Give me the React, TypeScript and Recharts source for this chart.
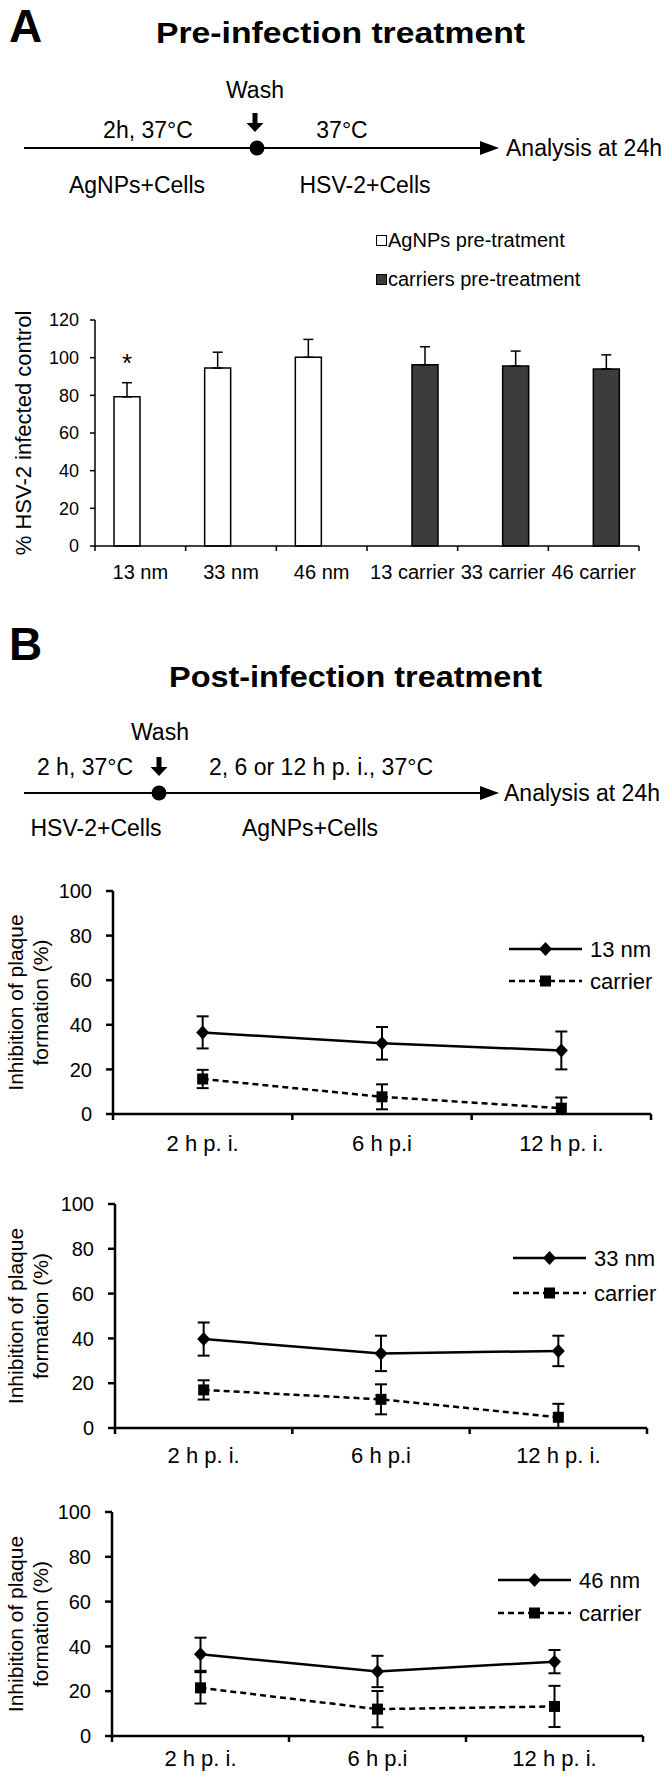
import React from 'react';
import { BarChart, Bar, LineChart, Line, XAxis, YAxis, ErrorBar, Legend, LabelList, Label } from 'recharts';

const FONT = "'Liberation Sans', Arial, Helvetica, sans-serif";
const BLACK = '#000';
const DARK = '#3c3c3c';

// panel A - pre-infection treatment (% of HSV-2 infected control)
const barCategories = ['13 nm', '33 nm', '46 nm', '13 carrier', '33 carrier', '46 carrier'];
const agnpsPre = [79.2, 94.5, 100.2, null, null, null];
const agnpsPreErr = [7.5, 8.4, 9.5, null, null, null];
const carriersPre = [null, null, null, 96.2, 95.6, 94.0];
const carriersPreErr = [null, null, null, 9.6, 7.9, 7.5];
const significance = ['*', '', '', '', '', ''];
const barTicks = [0, 20, 40, 60, 80, 100, 120];

// panel B - post-infection treatment (% inhibition of plaque formation)
const timepoints = ['2 h p. i.', '6 h p.i', '12 h p. i.'];
const lineTicks = [0, 20, 40, 60, 80, 100];
const nm13 = [36.6, 31.7, 28.5];
const nm13Err = [7.2, 7.3, 8.5];
const carrier13 = [15.7, 7.7, 2.6];
const carrier13Err = [4.1, 5.6, 4.8];
const nm33 = [39.7, 33.3, 34.4];
const nm33Err = [7.4, 7.9, 6.8];
const carrier33 = [17.0, 12.8, 4.8];
const carrier33Err = [4.3, 6.7, 6.0];
const nm46 = [36.5, 28.8, 33.2];
const nm46Err = [7.4, 7.0, 5.2];
const carrier46 = [21.5, 12.0, 13.2];
const carrier46Err = [7.0, 8.1, 9.2];

const W = 672;

const DownArrow = ({ x, y }: { x: number; y: number }) => (
  <path d={`M${x - 2.5},${y} h5 v10 h6 l-8.5,9 l-8.5,-9 h6 z`} fill={BLACK} />
);

const Timeline = ({ y, dotX }: { y: number; dotX: number }) => (
  <g>
    <line x1={24} y1={y} x2={482} y2={y} stroke={BLACK} strokeWidth={2} />
    <path d={`M480,${y - 7} L499,${y} L480,${y + 7} Z`} fill={BLACK} />
    <circle cx={dotX} cy={y} r={7.5} fill={BLACK} />
  </g>
);

const HeaderA = () => (
  <svg width={W} height={210} style={{ position: 'absolute', left: 0, top: 0 }} fontFamily={FONT} fill={BLACK}>
    <text x={9} y={42} fontSize={46} fontWeight="bold">A</text>
    <text x={156} y={43} fontSize={30} fontWeight="bold" textLength={369} lengthAdjust="spacingAndGlyphs">
      Pre-infection treatment
    </text>
    <text x={255} y={98} fontSize={23} textAnchor="middle">Wash</text>
    <DownArrow x={255} y={113} />
    <text x={148} y={138} fontSize={23} textAnchor="middle">2h, 37°C</text>
    <text x={342} y={138} fontSize={23} textAnchor="middle">37°C</text>
    <Timeline y={148} dotX={257} />
    <text x={506} y={156} fontSize={23}>Analysis at 24h</text>
    <text x={137} y={193} fontSize={23} textAnchor="middle">AgNPs+Cells</text>
    <text x={365} y={193} fontSize={23} textAnchor="middle">HSV-2+Cells</text>
  </svg>
);

// header B is drawn in a box starting at y = 600
const HeaderB = () => (
  <svg width={W} height={250} style={{ position: 'absolute', left: 0, top: 600 }} fontFamily={FONT} fill={BLACK}>
    <text x={9} y={60} fontSize={46} fontWeight="bold">B</text>
    <text x={169} y={87} fontSize={30} fontWeight="bold" textLength={373} lengthAdjust="spacingAndGlyphs">
      Post-infection treatment
    </text>
    <text x={160} y={140} fontSize={23} textAnchor="middle">Wash</text>
    <DownArrow x={159} y={157} />
    <text x={85} y={175} fontSize={23} textAnchor="middle">2 h, 37°C</text>
    <text x={321} y={175} fontSize={23} textAnchor="middle">2, 6 or 12 h p. i., 37°C</text>
    <Timeline y={193} dotX={159} />
    <text x={504} y={201} fontSize={23}>Analysis at 24h</text>
    <text x={96} y={236} fontSize={23} textAnchor="middle">HSV-2+Cells</text>
    <text x={310} y={236} fontSize={23} textAnchor="middle">AgNPs+Cells</text>
  </svg>
);

// ---------- bar chart (panel A) ----------
const BAR_H = 400;
const barMargin = { top: 120, right: 33, bottom: 24, left: 0 };
const BAR_YAXIS_W = 95;
const barBand = (W - barMargin.left - barMargin.right - BAR_YAXIS_W) / barCategories.length;

const barData = barCategories.map((name, i) => ({
  name,
  agnps: agnpsPre[i],
  agnpsErr: agnpsPreErr[i],
  carriers: carriersPre[i],
  carriersErr: carriersPreErr[i],
  sig: significance[i],
}));

const BarTick = (props: any) => {
  const { x, y, payload, index } = props;
  const last = index === barCategories.length - 1;
  return (
    <g>
      <line x1={x - barBand / 2} y1={y} x2={x - barBand / 2} y2={y + 5} stroke={BLACK} strokeWidth={1.5} />
      {last && <line x1={x + barBand / 2} y1={y} x2={x + barBand / 2} y2={y + 5} stroke={BLACK} strokeWidth={1.5} />}
      <text x={x} y={y + 33} textAnchor="middle" fontSize={20} fontFamily={FONT} fill={BLACK}>
        {payload.value}
      </text>
    </g>
  );
};

const BarLegend = (props: any) => (
  <div style={{ fontFamily: FONT, fontSize: 20, color: BLACK }}>
    {(props.payload || []).map((e: any) => (
      <div key={e.value} style={{ display: 'flex', alignItems: 'center', height: 39 }}>
        <span style={{ width: 9, height: 9, border: `1.5px solid ${BLACK}`, background: e.color, marginRight: 1 }} />
        <span>{e.value}</span>
      </div>
    ))}
  </div>
);

const barYLabel = (props: any) => {
  const { viewBox } = props;
  const cy = viewBox.y + viewBox.height / 2;
  return (
    <text transform={`translate(23, ${cy}) rotate(-90)`} textAnchor="middle" dy="0.35em" fontSize={22} fontFamily={FONT} fill={BLACK}>
      % HSV-2 infected control
    </text>
  );
};

const starLabel = (props: any) => {
  const { x, y, width, value } = props;
  if (!value) return null;
  return (
    <text x={x + width / 2} y={y - 25} textAnchor="middle" fontSize={26} fontFamily={FONT} fill={BLACK}>
      {value}
    </text>
  );
};

const PreInfectionChart = () => (
  <div style={{ position: 'absolute', left: 0, top: 200 }}>
    <BarChart width={W} height={BAR_H} data={barData} margin={barMargin} barGap={0}>
      <XAxis
        dataKey="name"
        height={30}
        interval={0}
        tickSize={0}
        tickMargin={0}
        tickLine={false}
        axisLine={{ stroke: BLACK, strokeWidth: 1.5 }}
        tick={BarTick}
      />
      <YAxis
        domain={[0, 120]}
        ticks={barTicks}
        interval={0}
        width={BAR_YAXIS_W}
        tickSize={5}
        tickMargin={11}
        axisLine={{ stroke: BLACK, strokeWidth: 1.5 }}
        tickLine={{ stroke: BLACK, strokeWidth: 1.5 }}
        tick={{ fill: BLACK, fontSize: 18, fontFamily: FONT }}
      >
        <Label content={barYLabel} />
      </YAxis>
      <Legend
        layout="vertical"
        align="center"
        verticalAlign="middle"
        wrapperStyle={{ left: 376, top: 21, width: 290 }}
        content={BarLegend}
      />
      <Bar dataKey="agnps" name="AgNPs pre-tratment" fill="#fff" stroke={BLACK} strokeWidth={1.5} barSize={26} isAnimationActive={false}>
        <ErrorBar
          dataKey={(d: any) => (d.agnpsErr == null ? null : [0, d.agnpsErr])}
          direction="y"
          width={5}
          stroke={BLACK}
          strokeWidth={1.5}
        />
        <LabelList dataKey="sig" content={starLabel} />
      </Bar>
      <Bar dataKey="carriers" name="carriers pre-treatment" fill={DARK} stroke={BLACK} strokeWidth={1.5} barSize={26} isAnimationActive={false}>
        <ErrorBar
          dataKey={(d: any) => (d.carriersErr == null ? null : [0, d.carriersErr])}
          direction="y"
          width={5}
          stroke={BLACK}
          strokeWidth={1.5}
        />
      </Bar>
    </BarChart>
  </div>
);

// ---------- line charts (panel B) ----------
const renderDiamond = (props: any) => {
  const { cx, cy, index } = props;
  if (cx == null || cy == null) return <g key={`dm-${index}`} />;
  return <path key={`dm-${index}`} d={`M${cx},${cy - 7} L${cx + 6.5},${cy} L${cx},${cy + 7} L${cx - 6.5},${cy} Z`} fill={BLACK} />;
};

const renderSquare = (props: any) => {
  const { cx, cy, index } = props;
  if (cx == null || cy == null) return <g key={`sq-${index}`} />;
  return <rect key={`sq-${index}`} x={cx - 5.5} y={cy - 5.5} width={11} height={11} fill={BLACK} />;
};

const lineYLabel = (props: any) => {
  const { viewBox } = props;
  const cy = viewBox.y + viewBox.height / 2;
  return (
    <text transform={`translate(16, ${cy}) rotate(-90)`} textAnchor="middle" fontSize={21} fontFamily={FONT} fill={BLACK}>
      <tspan x={0} dy="0.35em">Inhibition of plaque</tspan>
      <tspan x={0} dy={25}>formation (%)</tspan>
    </text>
  );
};

interface LinePanelProps {
  top: number;
  height: number;
  margin: { top: number; right: number; bottom: number; left: number };
  yAxisWidth: number;
  xAxisHeight: number;
  labelDy: number;
  nmName: string;
  nm: number[];
  nmErr: number[];
  carrier: number[];
  carrierErr: number[];
  legendLeft: number;
  legendTop: number;
  legendGap: number;
}

const LinePanel = (p: LinePanelProps) => {
  const data = timepoints.map((t, i) => ({
    t,
    nm: p.nm[i],
    nmErr: p.nmErr[i],
    carrier: p.carrier[i],
    carrierErr: p.carrierErr[i],
  }));
  const band = (W - p.margin.left - p.margin.right - p.yAxisWidth) / timepoints.length;

  const tick = (props: any) => {
    const { x, y, payload, index } = props;
    const last = index === timepoints.length - 1;
    return (
      <g>
        <line x1={x - band / 2} y1={y} x2={x - band / 2} y2={y + 6} stroke={BLACK} strokeWidth={2.5} />
        {last && <line x1={x + band / 2} y1={y} x2={x + band / 2} y2={y + 6} stroke={BLACK} strokeWidth={2.5} />}
        <text x={x} y={y + p.labelDy} textAnchor="middle" fontSize={22} fontFamily={FONT} fill={BLACK}>
          {payload.value}
        </text>
      </g>
    );
  };

  const legend = (props: any) => (
    <svg width={180} height={p.legendGap + 34}>
      {(props.payload || []).map((e: any, i: number) => {
        const y = 17 + i * p.legendGap;
        const isNm = e.dataKey === 'nm';
        return (
          <g key={String(e.dataKey)}>
            <line
              x1={0}
              y1={y}
              x2={73}
              y2={y}
              stroke={BLACK}
              strokeWidth={2.5}
              strokeDasharray={isNm ? undefined : '6 4'}
            />
            {isNm
              ? <path d={`M36.5,${y - 7} L43,${y} L36.5,${y + 7} L30,${y} Z`} fill={BLACK} />
              : <rect x={31} y={y - 5.5} width={11} height={11} fill={BLACK} />}
            <text x={81} y={y + 8} fontSize={22} fontFamily={FONT} fill={BLACK}>{e.value}</text>
          </g>
        );
      })}
    </svg>
  );

  return (
    <div style={{ position: 'absolute', left: 0, top: p.top }}>
      <LineChart width={W} height={p.height} data={data} margin={p.margin}>
        <XAxis
          dataKey="t"
          scale="band"
          height={p.xAxisHeight}
          interval={0}
          tickSize={0}
          tickMargin={0}
          tickLine={false}
          axisLine={{ stroke: BLACK, strokeWidth: 2.5 }}
          tick={tick}
        />
        <YAxis
          domain={[0, 100]}
          ticks={lineTicks}
          interval={0}
          width={p.yAxisWidth}
          tickSize={7}
          tickMargin={14}
          axisLine={{ stroke: BLACK, strokeWidth: 2.5 }}
          tickLine={{ stroke: BLACK, strokeWidth: 2.5 }}
          tick={{ fill: BLACK, fontSize: 20, fontFamily: FONT }}
        >
          <Label content={lineYLabel} />
        </YAxis>
        <Legend
          layout="vertical"
          align="center"
          verticalAlign="middle"
          wrapperStyle={{ left: p.legendLeft, top: p.legendTop - p.top - 17, width: 180 }}
          content={legend}
        />
        <Line dataKey="nm" name={p.nmName} stroke={BLACK} strokeWidth={2.5} dot={renderDiamond} activeDot={false} isAnimationActive={false}>
          <ErrorBar
            dataKey={(d: any) => [Math.min(d.nmErr, d.nm), d.nmErr]}
            direction="y"
            width={6}
            stroke={BLACK}
            strokeWidth={2}
          />
        </Line>
        <Line
          dataKey="carrier"
          name="carrier"
          stroke={BLACK}
          strokeWidth={2.5}
          strokeDasharray="6 4"
          dot={renderSquare}
          activeDot={false}
          isAnimationActive={false}
        >
          <ErrorBar
            dataKey={(d: any) => [Math.min(d.carrierErr, d.carrier), d.carrierErr]}
            direction="y"
            width={6}
            stroke={BLACK}
            strokeWidth={2}
          />
        </Line>
      </LineChart>
    </div>
  );
};

export default function App() {
  return (
    <div style={{ position: 'relative', width: W, height: 1781, background: '#fff', overflow: 'hidden', fontFamily: FONT }}>
      <style>{'body{margin:0;background:#fff}'}</style>
      <HeaderA />
      <PreInfectionChart />
      <HeaderB />
      <LinePanel
        top={860}
        height={300}
        margin={{ top: 31, right: 21, bottom: 6, left: 0 }}
        yAxisWidth={113}
        xAxisHeight={40}
        labelDy={37}
        nmName="13 nm"
        nm={nm13}
        nmErr={nm13Err}
        carrier={carrier13}
        carrierErr={carrier13Err}
        legendLeft={509}
        legendTop={949}
        legendGap={32}
      />
      <LinePanel
        top={1170}
        height={300}
        margin={{ top: 34, right: 25, bottom: 6, left: 0 }}
        yAxisWidth={115}
        xAxisHeight={36}
        labelDy={35}
        nmName="33 nm"
        nm={nm33}
        nmErr={nm33Err}
        carrier={carrier33}
        carrierErr={carrier33Err}
        legendLeft={513}
        legendTop={1258}
        legendGap={35}
      />
      <LinePanel
        top={1480}
        height={301}
        margin={{ top: 32, right: 29, bottom: 5, left: 0 }}
        yAxisWidth={112}
        xAxisHeight={40}
        labelDy={30}
        nmName="46 nm"
        nm={nm46}
        nmErr={nm46Err}
        carrier={carrier46}
        carrierErr={carrier46Err}
        legendLeft={498}
        legendTop={1580}
        legendGap={33}
      />
    </div>
  );
}
